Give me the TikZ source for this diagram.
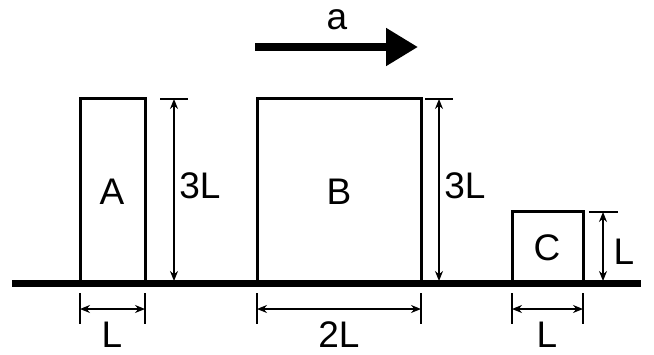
\documentclass[tikz,border=0pt]{standalone}
\usepackage{fontspec}
\setmainfont{Liberation Sans}
\usetikzlibrary{arrows.meta}
\begin{document}
\begin{tikzpicture}[x=1pt,y=-1pt,
  block/.style={draw, line width=3pt, anchor=south west, inner sep=0pt, outer sep=0pt},
  lbl/.style={inner sep=0pt, font=\fontsize{37}{40}\selectfont},
  dim/.style={line width=1.4pt, {Stealth[length=10pt,width=8pt]}-{Stealth[length=10pt,width=8pt]}},
  tick/.style={line width=1.2pt},
  ground/.style={line width=7pt},
  accel/.style={line width=8pt, -{Triangle[length=32pt,width=36pt]}}]
\useasboundingbox (0,0) rectangle (654,354);
% ground
\coordinate (g1) at (12,283.5);
\coordinate (g2) at (641,283.5);
\draw[ground] (g1) -- (g2);
% blocks
\node[block, minimum width=65pt, minimum height=184pt] (A) at (80,282) {};
\node[block, minimum width=164pt, minimum height=184pt] (B) at (257,282) {};
\node[block, minimum width=71pt, minimum height=71pt] (C) at (512,282) {};
\node[lbl] (Al) at (112,192) {A};
\node[lbl] (Bl) at (339,192) {B};
\node[lbl] (Cl) at (547,248) {C};
% acceleration
\coordinate (a1) at (255,47);
\coordinate (a2) at (418,47);
\draw[accel] (a1) -- (a2);
\node[lbl] (al) at (337,20) {a};
% height A
\coordinate (hA1) at (174,99);
\coordinate (hA2) at (174,281);
\coordinate (tA1) at (160,99); \coordinate (tA2) at (188,99);
\coordinate (tA3) at (160,281); \coordinate (tA4) at (188,281);
\draw[tick] (tA1) -- (tA2);
\draw[tick] (tA3) -- (tA4);
\draw[dim] (hA1) -- (hA2);
\node[lbl] (hAl) at (200,186) {3L};
% height B
\coordinate (hB1) at (439,99);
\coordinate (hB2) at (439,281);
\coordinate (tB1) at (425,99); \coordinate (tB2) at (453,99);
\coordinate (tB3) at (425,281); \coordinate (tB4) at (453,281);
\draw[tick] (tB1) -- (tB2);
\draw[tick] (tB3) -- (tB4);
\draw[dim] (hB1) -- (hB2);
\node[lbl] (hBl) at (465,186) {3L};
% height C
\coordinate (hC1) at (603,212);
\coordinate (hC2) at (603,281);
\coordinate (tC1) at (589,212); \coordinate (tC2) at (618,212);
\coordinate (tC3) at (589,281); \coordinate (tC4) at (618,281);
\draw[tick] (tC1) -- (tC2);
\draw[tick] (tC3) -- (tC4);
\draw[dim] (hC1) -- (hC2);
\node[lbl] (hCl) at (624,252) {L};
% widths
\foreach \n/\xa/\xb in {wA/80/145, wB/257/421, wC/512/583}{
  \coordinate (\n t1) at (\xa,293); \coordinate (\n b1) at (\xa,324);
  \coordinate (\n t2) at (\xb,293); \coordinate (\n b2) at (\xb,324);
  \coordinate (\n l) at (\xa,309); \coordinate (\n r) at (\xb,309);
  \draw[tick] (\n t1) -- (\n b1);
  \draw[tick] (\n t2) -- (\n b2);
  \draw[dim] (\n l) -- (\n r);
}
\node[lbl] (wAl) at (112,335) {L};
\node[lbl] (wBl) at (339,335) {2L};
\node[lbl] (wCl) at (547,335) {L};
\end{tikzpicture}
\end{document}
